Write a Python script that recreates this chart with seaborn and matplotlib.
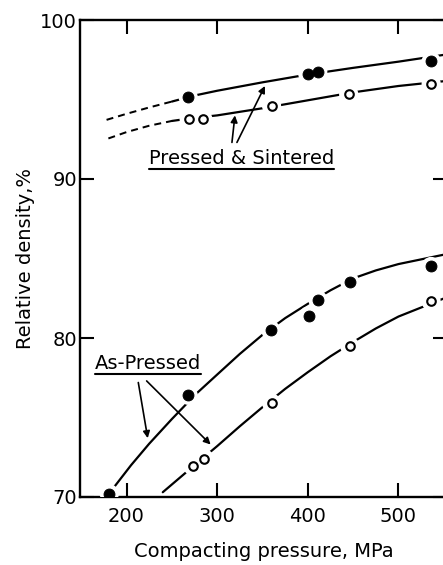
import numpy as np
import pandas as pd
import matplotlib
matplotlib.use("Agg")
import matplotlib.pyplot as plt
from matplotlib.lines import Line2D
import seaborn as sns

# measured points, pressed & sintered
ps_filled_x = [268, 400, 411, 536]
ps_filled_y = [95.15, 96.6, 96.75, 97.4]
ps_open_x = [269, 284, 360, 445, 536]
ps_open_y = [93.8, 93.8, 94.6, 95.35, 96.0]

# measured points, as-pressed
ap_filled_x = [181, 268, 359, 401, 411, 446, 536]
ap_filled_y = [70.2, 76.4, 80.5, 81.4, 82.4, 83.55, 84.5]
ap_open_x = [273, 286, 360, 446, 536]
ap_open_y = [71.95, 72.4, 75.9, 79.5, 82.3]

# hand drawn curves (dashed = extrapolated part)
ps_filled_curve_x = [178, 200, 225, 250, 275, 300, 350, 400, 450, 500, 555]
ps_filled_curve_y = [93.72, 94.1, 94.5, 94.87, 95.25, 95.55, 96.08, 96.57, 96.99, 97.38, 97.85]
ps_open_curve_x = [180, 200, 225, 250, 275, 300, 350, 400, 450, 500, 555]
ps_open_curve_y = [92.55, 92.95, 93.35, 93.65, 93.85, 94.0, 94.45, 94.95, 95.45, 95.85, 96.18]
ps_dash_limit = [228, 240]

ap_filled_curve_x = [186, 205, 225, 250, 277, 300, 325, 350, 375, 400, 425, 450, 475, 500, 555]
ap_filled_curve_y = [70.6, 72.0, 73.35, 74.9, 76.5, 77.7, 79.0, 80.2, 81.25, 82.15, 83.0, 83.75, 84.25, 84.65, 85.3]
ap_open_curve_x = [240, 275, 300, 325, 350, 375, 400, 425, 450, 475, 500, 555]
ap_open_curve_y = [70.3, 72.0, 73.2, 74.45, 75.65, 76.8, 77.85, 78.85, 79.75, 80.6, 81.35, 82.6]

xticks = [200, 300, 400, 500]
yticks = [70, 80, 90, 100]

sns.set_style("ticks")
plt.rcParams['font.family'] = ['DejaVu Sans']
plt.rcParams['text.color'] = 'black'
plt.rcParams['axes.labelcolor'] = 'black'

fig = plt.figure(figsize=(4.43, 5.65), dpi=100)
ax = fig.add_axes([80 / 443, 1 - 497 / 565, 367 / 443, 477 / 565])

lw = 1.6


def draw_curve(xs, ys, dash_to=None):
    df = pd.DataFrame({"x": xs, "y": ys})
    if dash_to is None:
        sns.lineplot(data=df, x="x", y="y", ax=ax, color="black", lw=lw, sort=True, zorder=2)
        return
    split = df.x[df.x >= dash_to].min()
    dash = df[df.x <= split]
    solid = df[df.x >= split]
    sns.lineplot(data=dash, x="x", y="y", ax=ax, color="black", lw=lw * 0.9, zorder=2,
                 linestyle=(0, (3.5, 2.5)))
    sns.lineplot(data=solid, x="x", y="y", ax=ax, color="black", lw=lw, zorder=2)


draw_curve(ps_filled_curve_x, ps_filled_curve_y, ps_dash_limit[0])
draw_curve(ps_open_curve_x, ps_open_curve_y, ps_dash_limit[1])
draw_curve(ap_filled_curve_x, ap_filled_curve_y)
draw_curve(ap_open_curve_x, ap_open_curve_y)

# white halo so lines break around the symbols
for xs, ys in [(ps_filled_x, ps_filled_y), (ps_open_x, ps_open_y),
               (ap_filled_x, ap_filled_y), (ap_open_x, ap_open_y)]:
    sns.scatterplot(x=xs, y=ys, ax=ax, s=190, color="white", edgecolor="none", zorder=3)

for xs, ys in [(ps_filled_x, ps_filled_y), (ap_filled_x, ap_filled_y)]:
    sns.scatterplot(x=xs, y=ys, ax=ax, s=62, color="black", edgecolor="black", zorder=4)
for xs, ys in [(ps_open_x, ps_open_y), (ap_open_x, ap_open_y)]:
    sns.scatterplot(x=xs, y=ys, ax=ax, s=38, facecolor="white", edgecolor="black",
                    linewidth=1.5, zorder=4)

ax.set_xlim(148.7, 553.5)
ax.set_ylim(70, 100)
ax.set_xticks(xticks)
ax.set_yticks(yticks)
ax.tick_params(direction="in", length=10, width=1.5, top=True, right=True,
               labelsize=14, colors="black")
ax.tick_params(axis="x", pad=7)
ax.tick_params(axis="y", pad=2)
for sp in ax.spines.values():
    sp.set_linewidth(1.7)
    sp.set_visible(True)
    sp.set_color("black")

ax.set_xlabel("Compacting pressure, MPa", fontsize=14, labelpad=12)
ax.set_ylabel("Relative density,%", fontsize=14, labelpad=4)

t1 = ax.text(327, 91.3, "Pressed & Sintered", fontsize=14, ha="center", va="center")
t2 = ax.text(224, 78.4, "As-Pressed", fontsize=14, ha="center", va="center")

arrow = dict(arrowstyle="-|>", color="black", lw=1.2, mutation_scale=10, shrinkA=0, shrinkB=0)
ax.annotate("", xy=(319.6, 94.0), xytext=(316.3, 92.3), arrowprops=arrow)
ax.annotate("", xy=(352.7, 95.85), xytext=(321.8, 92.3), arrowprops=arrow)
ax.annotate("", xy=(223.4, 73.7), xytext=(213, 77.2), arrowprops=arrow)
ax.annotate("", xy=(292.8, 73.3), xytext=(222.2, 77.3), arrowprops=arrow)

# underline the two labels
fig.canvas.draw()
for t in (t1, t2):
    bb = t.get_window_extent()
    yy = bb.y0 - 1
    fig.add_artist(Line2D([bb.x0 / fig.bbox.width, bb.x1 / fig.bbox.width],
                          [yy / fig.bbox.height, yy / fig.bbox.height],
                          color="black", lw=1.5))

fig.savefig("out.png", dpi=100)
